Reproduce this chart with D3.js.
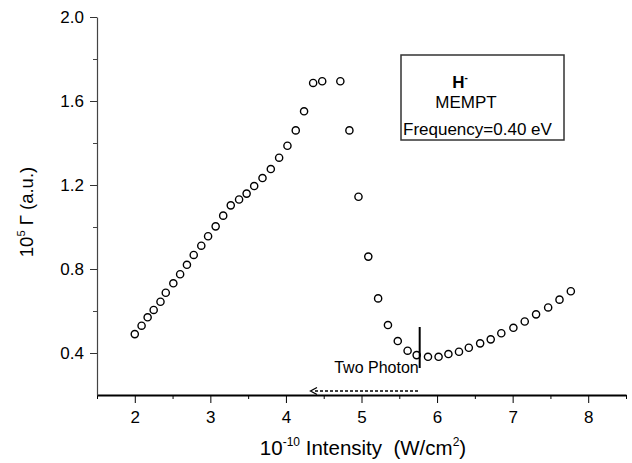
<!DOCTYPE html>
<html>
<head>
<meta charset="utf-8">
<script src="https://cdn.jsdelivr.net/npm/d3@7/dist/d3.min.js"></script>
<style>
  html, body { margin: 0; padding: 0; background: #fff; }
  svg { display: block; font-family: "Liberation Sans", Arial, sans-serif; }
</style>
</head>
<body>
<svg id="chart" width="632" height="463"></svg>
<script>
// ---- data ----
const intensity = [2.00, 2.09, 2.17, 2.25, 2.34, 2.41, 2.51, 2.60, 2.69, 2.78, 2.88, 2.97, 3.07, 3.17, 3.27, 3.38, 3.48, 3.58, 3.69, 3.80, 3.91, 4.02, 4.13, 4.24, 4.36, 4.48, 4.72, 4.84, 4.96, 5.09, 5.22, 5.35, 5.48, 5.61, 5.73, 5.88, 6.02, 6.15, 6.29, 6.42, 6.57, 6.71, 6.85, 7.01, 7.16, 7.31, 7.47, 7.62, 7.77];
const gamma = [0.49, 0.53, 0.57, 0.605, 0.644, 0.687, 0.732, 0.775, 0.82, 0.867, 0.911, 0.956, 1.003, 1.054, 1.103, 1.131, 1.159, 1.195, 1.233, 1.276, 1.33, 1.387, 1.46, 1.551, 1.686, 1.694, 1.694, 1.46, 1.144, 0.859, 0.66, 0.533, 0.457, 0.411, 0.39, 0.382, 0.382, 0.395, 0.406, 0.425, 0.446, 0.465, 0.494, 0.52, 0.55, 0.584, 0.617, 0.654, 0.694];
const xMajorTicks = [2, 3, 4, 5, 6, 7, 8];
const xMinorTicks = [1.5, 2.5, 3.5, 4.5, 5.5, 6.5, 7.5, 8.5];
const yMajorTicks = [0.4, 0.8, 1.2, 1.6, 2.0];
const yMinorTicks = [0.6, 1.0, 1.4, 1.8];
const legendLines = ["MEMPT", "Frequency=0.40 eV"];
const twoPhotonX = 5.77;

// ---- layout ----
const svg = d3.select("#chart");
const mLeft = 97, mRight = 626, mTop = 17, mBottom = 395;
const x = d3.scaleLinear().domain([1.5, 8.5]).range([mLeft, mRight]);
const y = d3.scaleLinear().domain([0.2, 2.0]).range([mBottom, mTop]);
const FONT = "Liberation Sans, Arial, sans-serif";

// minor ticks
svg.append("g").attr("transform", `translate(0,${mBottom})`)
  .call(d3.axisBottom(x).tickValues(xMinorTicks).tickSize(4).tickFormat(""))
  .call(g => g.select(".domain").remove())
  .selectAll("line").attr("stroke", "#000").attr("stroke-width", 1);
svg.append("g").attr("transform", `translate(${mLeft},0)`)
  .call(d3.axisLeft(y).tickValues(yMinorTicks).tickSize(4).tickFormat(""))
  .call(g => g.select(".domain").remove())
  .selectAll("line").attr("stroke", "#444").attr("stroke-width", 1);

// major axes
const gx = svg.append("g").attr("transform", `translate(0,${mBottom})`)
  .call(d3.axisBottom(x).tickValues(xMajorTicks).tickSizeInner(8).tickSizeOuter(0).tickPadding(8).tickFormat(d3.format("d")));
gx.select(".domain").attr("stroke", "#000").attr("stroke-width", 2);
gx.selectAll(".tick line").attr("stroke", "#000").attr("stroke-width", 1);
gx.selectAll(".tick text").attr("font-size", 17).attr("fill", "#000").attr("font-family", FONT);

const gy = svg.append("g").attr("transform", `translate(${mLeft},0)`)
  .call(d3.axisLeft(y).tickValues(yMajorTicks).tickSizeInner(7).tickSizeOuter(0).tickPadding(6).tickFormat(d3.format(".1f")));
gy.select(".domain").attr("stroke", "#444").attr("stroke-width", 1.2);
gy.selectAll(".tick line").attr("stroke", "#333").attr("stroke-width", 1);
gy.selectAll(".tick text").attr("font-size", 17).attr("fill", "#000").attr("font-family", FONT);

// points
svg.append("g").selectAll("circle")
  .data(intensity.map((d, i) => [d, gamma[i]]))
  .join("circle")
  .attr("cx", d => x(d[0]))
  .attr("cy", d => y(d[1]))
  .attr("r", 3.6)
  .attr("fill", "none")
  .attr("stroke", "#000")
  .attr("stroke-width", 1.4);

// Two Photon annotation
const tpx = x(twoPhotonX);
svg.append("line").attr("x1", tpx).attr("x2", tpx).attr("y1", 327).attr("y2", 368)
  .attr("stroke", "#000").attr("stroke-width", 2);
svg.append("text").attr("x", tpx - 1).attr("y", 373).attr("text-anchor", "end")
  .attr("font-size", 16).text("Two Photon");
svg.append("line").attr("x1", 315).attr("x2", tpx).attr("y1", 391).attr("y2", 391)
  .attr("stroke", "#000").attr("stroke-width", 1.5).attr("stroke-dasharray", "3,2");
svg.append("path").attr("d", "M317,387.5 L310.5,391 L317,394.5")
  .attr("fill", "none").attr("stroke", "#000").attr("stroke-width", 1.3);

// legend box
svg.append("rect").attr("x", 401).attr("y", 55).attr("width", 163).attr("height", 85)
  .attr("fill", "#fff").attr("stroke", "#333").attr("stroke-width", 1.5);
const h = svg.append("text").attr("x", 460).attr("y", 88).attr("text-anchor", "middle")
  .attr("font-size", 17).attr("font-weight", "bold");
h.append("tspan").text("H");
h.append("tspan").attr("font-size", 10).attr("dy", -7).text("-");
svg.append("text").attr("x", 466).attr("y", 108).attr("text-anchor", "middle")
  .attr("font-size", 17).text(legendLines[0]);
svg.append("text").attr("x", 403).attr("y", 135).attr("text-anchor", "start")
  .attr("font-size", 17).text(legendLines[1]);

// axis titles
const xt = svg.append("text").attr("x", 363).attr("y", 455).attr("text-anchor", "middle").attr("font-size", 20.5);
xt.append("tspan").text("10");
xt.append("tspan").attr("font-size", 12).attr("dy", -9).text("-10");
xt.append("tspan").attr("dy", 9).text("\u00a0Intensity\u00a0\u00a0(W/cm");
xt.append("tspan").attr("font-size", 12).attr("dy", -9).text("2");
xt.append("tspan").attr("dy", 9).text(")");

const yt = svg.append("text").attr("transform", "translate(33,212) rotate(-90)")
  .attr("text-anchor", "middle").attr("font-size", 18.5);
yt.append("tspan").text("10");
yt.append("tspan").attr("font-size", 11).attr("dy", -8).text("5");
yt.append("tspan").attr("dy", 8).text("\u00a0Γ (a.u.)");
</script>
</body>
</html>
